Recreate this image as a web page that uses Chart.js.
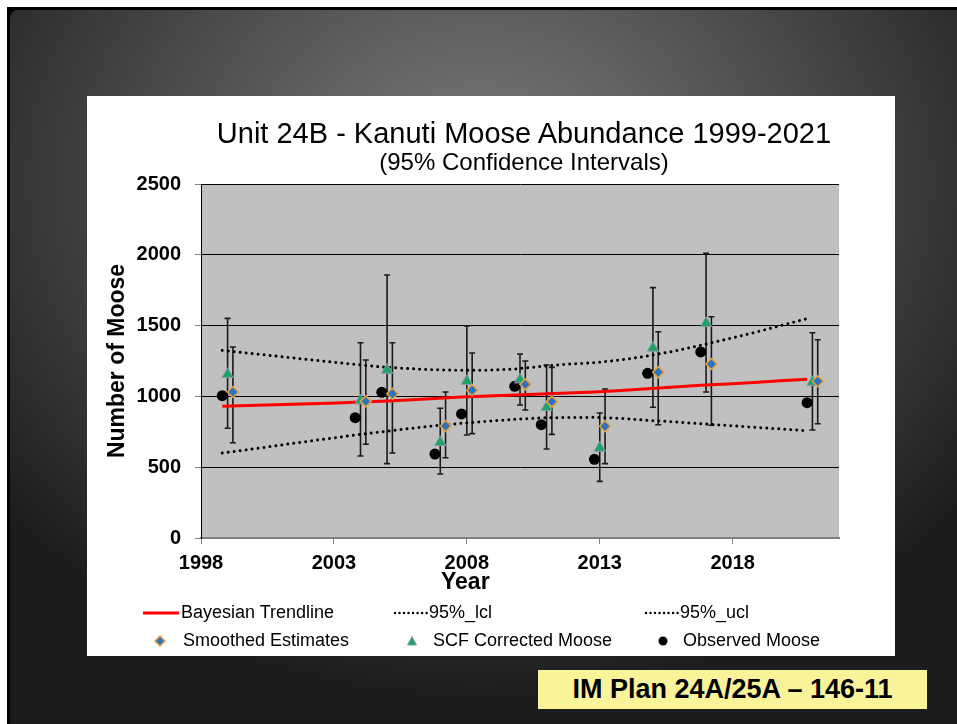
<!DOCTYPE html>
<html>
<head>
<meta charset="utf-8">
<script src="https://cdn.jsdelivr.net/npm/chart.js@4.4.1/dist/chart.umd.min.js"></script>
<style>
html,body{margin:0;padding:0;width:957px;height:724px;overflow:hidden;background:#fff;font-family:'Liberation Sans',Arial,sans-serif;}
#frame{position:absolute;left:7px;top:7px;width:1000px;height:800px;background:#000;}
#slide{position:absolute;left:3px;top:3px;right:0;bottom:0;border-radius:8px 0 0 0;
  background:radial-gradient(ellipse 620px 520px at 470px 170px,#7c7c7c 0%,#5c5c5c 35%,#3a3a3a 70%,#1c1c1c 100%);}
#panel{position:absolute;left:87px;top:96px;width:808px;height:560px;background:#fff;}
#panel canvas{position:absolute;left:0;top:0;}
.t{position:absolute;white-space:nowrap;color:#000;}
#title{left:205px;width:638px;top:119px;font-size:29px;line-height:29px;text-align:center;}
#subtitle{left:205px;width:638px;top:150px;font-size:24px;line-height:24px;text-align:center;}
#xtitle{left:441px;top:570px;font-size:23px;line-height:23px;font-weight:bold;}
.lg{position:absolute;font-size:18px;line-height:18px;white-space:nowrap;color:#000;}
.sym{position:absolute;}
#footer{position:absolute;left:538px;top:670px;width:389px;height:39px;background:#f9f499;
  font-size:27px;line-height:39px;font-weight:bold;text-align:center;color:#000;white-space:nowrap;}
</style>
</head>
<body>
<div id="frame"><div id="slide"></div></div>
<div id="panel"><canvas id="c" width="808" height="560"></canvas></div>

<div class="t" id="title">Unit 24B - Kanuti Moose Abundance 1999-2021</div>
<div class="t" id="subtitle">(95% Confidence Intervals)</div>
<div class="t" id="xtitle">Year</div>

<!-- legend row 1 -->
<svg class="sym" style="left:143px;top:607px" width="37" height="12"><line x1="0" y1="6" x2="36" y2="6" stroke="#ff0000" stroke-width="3"/></svg>
<div class="lg" style="left:181px;top:603px">Bayesian Trendline</div>
<svg class="sym" style="left:393px;top:607px" width="36" height="12"><line x1="2" y1="6" x2="34" y2="6" stroke="#000" stroke-width="2.5" stroke-linecap="round" stroke-dasharray="0.01 4.5"/></svg>
<div class="lg" style="left:429px;top:603px">95%_lcl</div>
<svg class="sym" style="left:644px;top:607px" width="36" height="12"><line x1="2" y1="6" x2="34" y2="6" stroke="#000" stroke-width="2.5" stroke-linecap="round" stroke-dasharray="0.01 4.5"/></svg>
<div class="lg" style="left:680px;top:603px">95%_ucl</div>
<!-- legend row 2 -->
<svg class="sym" style="left:153px;top:634px" width="14" height="14"><polygon points="7,2 12,7 7,12 2,7" fill="#2a72c4" stroke="#e8a038" stroke-width="1.5"/></svg>
<div class="lg" style="left:183px;top:631px">Smoothed Estimates</div>
<svg class="sym" style="left:405px;top:634px" width="14" height="14"><polygon points="7,2.5 11.5,11 2.5,11" fill="#1aa566" stroke="#8a98aa" stroke-width="1"/></svg>
<div class="lg" style="left:433px;top:631px">SCF Corrected Moose</div>
<svg class="sym" style="left:656px;top:634px" width="14" height="14"><circle cx="7" cy="7" r="4.5" fill="#000"/></svg>
<div class="lg" style="left:683px;top:631px">Observed Moose</div>

<div id="footer">IM Plan 24A/25A – 146-11</div>

<script>
// ---- data ----
const surveyYears   = [1999, 2004, 2005, 2007, 2008, 2010, 2011, 2013, 2015, 2017, 2021];
const observedMoose = [1005,  850, 1029,  593,  876, 1071,  800,  556, 1163, 1314,  956];
const scfMoose      = [1156,  970, 1186,  676, 1107, 1118,  923,  636, 1342, 1516, 1100];
const scfLow        = [ 775,  579,  525,  452,  727,  939,  629,  400,  923, 1031,  763];
const scfHigh       = [1551, 1379, 1857,  916, 1497, 1299, 1222,  883, 1768, 2011, 1450];
const smoothedEst   = [1031,  965, 1019,  791, 1043, 1085,  963,  789, 1170, 1229, 1107];
const smoothedLow   = [ 673,  662,  600,  567,  737,  904,  732,  525,  800,  796,  807];
const smoothedHigh  = [1349, 1257, 1379, 1031, 1307, 1250, 1205, 1052, 1457, 1563, 1400];

const trendYears = [1999,2000,2001,2002,2003,2004,2005,2006,2007,2008,2009,2010,2011,2012,2013,2014,2015,2016,2017,2018,2019,2020,2021];
const trendline  = [ 930, 936, 941, 947, 952, 958, 966, 974, 985, 996,1003,1010,1017,1024,1031,1042,1054,1066,1078,1088,1099,1110,1121];
const lcl95      = [ 600, 625, 651, 677, 702, 727, 750, 772, 793, 810, 825, 838, 848, 851, 852, 845, 831, 820, 807, 795, 782, 770, 758];
const ucl95      = [1325,1305,1285,1265,1245,1226,1208,1196,1188,1184,1185,1193,1212,1228,1238,1258,1285,1320,1361,1405,1450,1500,1549];

const xTickValues = [1998, 2003, 2008, 2013, 2018];
const yTickValues = [0, 500, 1000, 1500, 2000, 2500];

// horizontal placement of the three series around each survey year
const OBS_SHIFT = -0.2, SCF_SHIFT = 0, SMOOTH_SHIFT = 0.2;

const pts = (xs, ys, shift) => xs.map((x, i) => ({x: x + shift, y: ys[i]}));

const plotBackground = {
  id: 'plotBackground',
  beforeDraw(chart) {
    const {ctx, chartArea: a} = chart;
    ctx.save();
    ctx.fillStyle = '#c0c0c0';
    ctx.fillRect(a.left, a.top, a.right - a.left, a.bottom - a.top);
    ctx.restore();
  }
};

const errorBars = {
  id: 'errorBars',
  beforeDatasetsDraw(chart) {
    const {ctx, scales: {x, y}} = chart;
    ctx.save();
    ctx.strokeStyle = '#1a1a1a';
    ctx.lineWidth = 1.6;
    chart.data.datasets.forEach(ds => {
      if (!ds.errLow) return;
      ds.data.forEach((p, j) => {
        const px = x.getPixelForValue(p.x);
        const yl = y.getPixelForValue(ds.errLow[j]);
        const yh = y.getPixelForValue(ds.errHigh[j]);
        ctx.beginPath();
        ctx.moveTo(px, yl); ctx.lineTo(px, yh);
        ctx.moveTo(px - 3, yl); ctx.lineTo(px + 3, yl);
        ctx.moveTo(px - 3, yh); ctx.lineTo(px + 3, yh);
        ctx.stroke();
      });
    });
    ctx.restore();
  }
};

Chart.defaults.font.family = "'Liberation Sans', Arial, sans-serif";
Chart.defaults.color = '#000';

new Chart(document.getElementById('c'), {
  type: 'scatter',
  data: {
    datasets: [
      {label: 'Bayesian Trendline', data: pts(trendYears, trendline, OBS_SHIFT), showLine: true,
       borderColor: '#ff0000', borderWidth: 3, pointRadius: 0, order: 6},
      {label: '95%_lcl', data: pts(trendYears, lcl95, OBS_SHIFT), showLine: true,
       borderColor: '#000', borderWidth: 3, borderDash: [0.01, 6], borderCapStyle: 'round', pointRadius: 0, order: 5},
      {label: '95%_ucl', data: pts(trendYears, ucl95, OBS_SHIFT), showLine: true,
       borderColor: '#000', borderWidth: 3, borderDash: [0.01, 6], borderCapStyle: 'round', pointRadius: 0, order: 4},
      {label: 'Smoothed Estimates', data: pts(surveyYears, smoothedEst, SMOOTH_SHIFT),
       errLow: smoothedLow, errHigh: smoothedHigh,
       pointStyle: 'rectRot', pointRadius: 5.5, backgroundColor: '#2a72c4', borderColor: '#e8a038', borderWidth: 1.5, order: 1},
      {label: 'SCF Corrected Moose', data: pts(surveyYears, scfMoose, SCF_SHIFT),
       errLow: scfLow, errHigh: scfHigh,
       pointStyle: 'triangle', pointRadius: 6.5, backgroundColor: '#1aa566', borderColor: '#8a98aa', borderWidth: 1, order: 2},
      {label: 'Observed Moose', data: pts(surveyYears, observedMoose, OBS_SHIFT),
       pointStyle: 'circle', pointRadius: 5.5, backgroundColor: '#000', borderColor: '#000', borderWidth: 0, order: 3}
    ]
  },
  options: {
    responsive: false,
    animation: false,
    devicePixelRatio: 1,
    layout: {padding: {left: 0, top: 88, right: 56, bottom: 60}},
    plugins: {legend: {display: false}, title: {display: false}, tooltip: {enabled: false}},
    scales: {
      x: {
        type: 'linear', min: 1998, max: 2022,
        afterBuildTicks: s => { s.ticks = xTickValues.map(v => ({value: v})); },
        afterFit: s => { s.height = 58; },
        ticks: {font: {size: 20, weight: 'bold'}, color: '#000', padding: 7, maxRotation: 0, autoSkip: false,
                callback: v => String(v)},
        grid: {drawOnChartArea: false, drawTicks: true, tickLength: 6, tickColor: '#808080', color: '#808080'},
        border: {color: '#808080', width: 2},
        title: {display: false}
      },
      y: {
        min: 0, max: 2500,
        afterBuildTicks: s => { s.ticks = yTickValues.map(v => ({value: v})); },
        afterFit: s => { s.width = 114; },
        ticks: {font: {size: 20, weight: 'bold'}, color: '#000', padding: 14, callback: v => String(v)},
        grid: {color: c => (c.tick && c.tick.value === 0) ? '#808080' : '#000', lineWidth: 1,
               tickLength: 6, tickColor: '#808080'},
        border: {color: '#000', width: 1},
        title: {display: true, text: 'Number of Moose', font: {size: 23, weight: 'bold'}, color: '#000',
                padding: {top: 17, bottom: 0}}
      }
    }
  },
  plugins: [plotBackground, errorBars]
});
</script>
</body>
</html>
